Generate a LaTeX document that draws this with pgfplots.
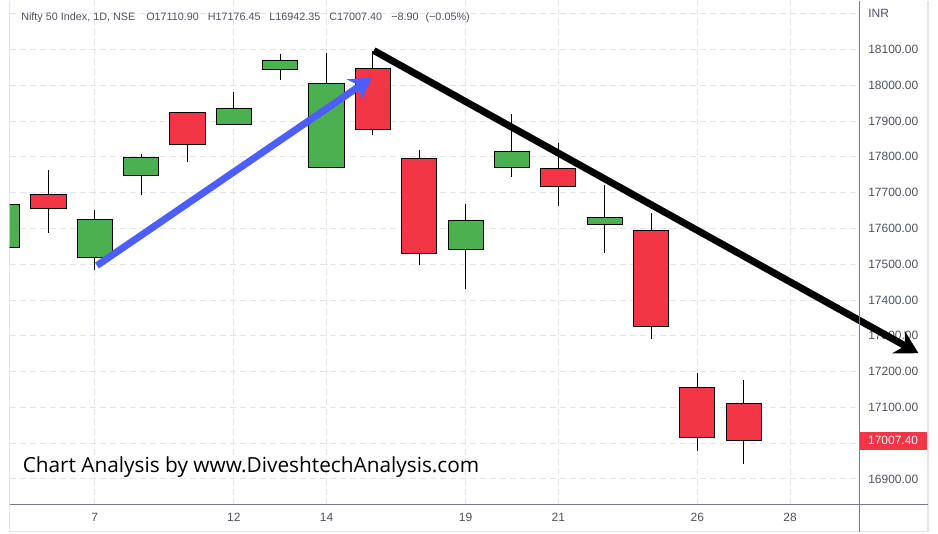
\documentclass[border=0pt]{standalone}
\usepackage{fontspec}
\setmainfont{Liberation Sans}
\newfontfamily\wmfont{Open Sans}
\usepackage{pgfplots}
\pgfplotsset{compat=1.18}
\usetikzlibrary{arrows.meta}

\definecolor{upc}{RGB}{76,175,80}
\definecolor{dnc}{RGB}{242,54,69}
\definecolor{gridc}{RGB}{224,227,235}
\definecolor{axc}{RGB}{120,123,134}
\definecolor{txtc}{RGB}{80,83,94}
\definecolor{bluec}{RGB}{76,94,255}
\definecolor{framec}{RGB}{228,230,236}
\newcommand\labelfont{\fontsize{9}{11}\selectfont}

% position, low, body low, body high, high, colour
\newcommand{\candle}[6]{%
 \pgfmathsetmacro\cxa{#1-0.38}%
 \pgfmathsetmacro\cxb{#1+0.38}%
 \addplot[black, line width=0.75pt] coordinates {(#1,#2) (#1,#5)};
 \addplot[draw=black, fill=#6, line width=0.75pt]
   coordinates {(\cxa,#3) (\cxb,#3) (\cxb,#4) (\cxa,#4)} -- cycle;}

\pgfplotsset{chartgeom/.style={
  at={(7.125pt,0pt)}, anchor=north west,
  scale only axis, width=637.125pt, height=378pt,
  xmin=-1.840, xmax=16.487, ymin=16828.6, ymax=18236.9,
  scaled y ticks=false, scaled x ticks=false}}

\begin{document}
\begin{tikzpicture}
\begin{scope}[x=0.75pt,y=-0.75pt]
  \useasboundingbox (0,0) rectangle (938,533);
  \fill[white] (0,0) rectangle (938,533);
  \draw[framec, line width=0.9pt] (9.5,0) -- (9.5,531) -- (928,531) -- (928,0);
\end{scope}

\begin{axis}[chartgeom,
  axis line style={draw=none},
  xtick={0,3,5,8,10,13,15}, xticklabels={7,12,14,19,21,26,28},
  ytick={16900,17000,17100,17200,17300,17400,17500,17600,17700,17800,17900,18000,18100,18200},
  yticklabels={16900.00,{},17100.00,17200.00,17300.00,17400.00,17500.00,17600.00,17700.00,17800.00,17900.00,18000.00,18100.00,INR},
  yticklabel pos=right,
  tick style={draw=none},
  grid=major,
  major grid style={gridc, line width=0.75pt, dash pattern=on 4.5pt off 3pt},
  xticklabel style={font=\labelfont, text=txtc, anchor=north, inner sep=0pt, yshift=-6.5pt},
  yticklabel style={font=\labelfont, text=txtc, anchor=west, inner sep=0pt, xshift=6.75pt},
]
\candle{-2}{17540}{17546}{17665.8}{17683}{upc}
\candle{-1}{17587.65}{17655.6}{17695.7}{17764.65}{dnc}
\candle{0}{17484.3}{17519.4}{17624.4}{17650.75}{upc}
\candle{1}{17694.8}{17748.15}{17798.75}{17807.65}{upc}
\candle{2}{17786}{17833.35}{17923.35}{17925.95}{dnc}
\candle{3}{17889.15}{17890.85}{17936.35}{17980.55}{upc}
\candle{4}{18015.45}{18044.45}{18070.05}{18088.3}{upc}
\candle{5}{17771.15}{17771.15}{18003.75}{18091.55}{upc}
\candle{6}{17861.5}{17877.4}{18046.35}{18096.15}{dnc}
\candle{7}{17497.25}{17530.85}{17796.8}{17820.05}{dnc}
\candle{8}{17429.7}{17540.65}{17622.25}{17667.2}{upc}
\candle{9}{17744.4}{17770.4}{17816.25}{17919.3}{upc}
\candle{10}{17663.6}{17718.35}{17766.35}{17838.35}{dnc}
\candle{11}{17532.45}{17609.65}{17629.8}{17722.75}{upc}
\candle{12}{17291.65}{17327.35}{17593.85}{17642.15}{dnc}
\candle{13}{16978.3}{17016.3}{17156.3}{17196.4}{dnc}
\candle{14}{16942.35}{17007.4}{17110.9}{17176.45}{dnc}
\end{axis}

\begin{axis}[chartgeom, hide axis, clip=false]
\addplot[bluec, line width=5.25pt, -{Stealth[length=16pt,width=19pt]}]
  coordinates {(0.047,17496.4) (5.974,18021)};
\addplot[black, line width=5.25pt, -{Stealth[length=17pt,width=19pt]}]
  coordinates {(6.02,18097) (17.77,17251.3)};
\node[fill=dnc, text=white, font=\labelfont, anchor=west, inner xsep=6.6pt,
  inner ysep=0pt, minimum height=13.5pt] at (axis cs:16.487,17007.4) {17007.40};
\end{axis}

\begin{scope}[x=0.75pt,y=-0.75pt]
  \draw[axc, line width=0.75pt] (9.5,504) -- (928,504);
  \draw[axc, line width=0.75pt] (859,0) -- (859,531);
  \begin{scope}[every node/.style={anchor=base west, inner sep=0pt, text=txtc,
      font=\fontsize{8.1}{10}\selectfont}]
    \node at (21,19.5) {Nifty 50 Index, 1D, NSE};
    \node at (146,19.5) {O17110.90};
    \node at (207.5,19.5) {H17176.45};
    \node at (269,19.5) {L16942.35};
    \node at (329,19.5) {C17007.40};
    \node at (391,19.5) {−8.90\hspace{3pt} (−0.05\%)};
  \end{scope}
  \node[anchor=base west, inner sep=0pt, text=black,
    font=\wmfont\fontsize{15.6}{18}\selectfont] at (22.5,471.5)
    {Chart Analysis by www.DiveshtechAnalysis.com};
\end{scope}
\end{tikzpicture}
\end{document}
